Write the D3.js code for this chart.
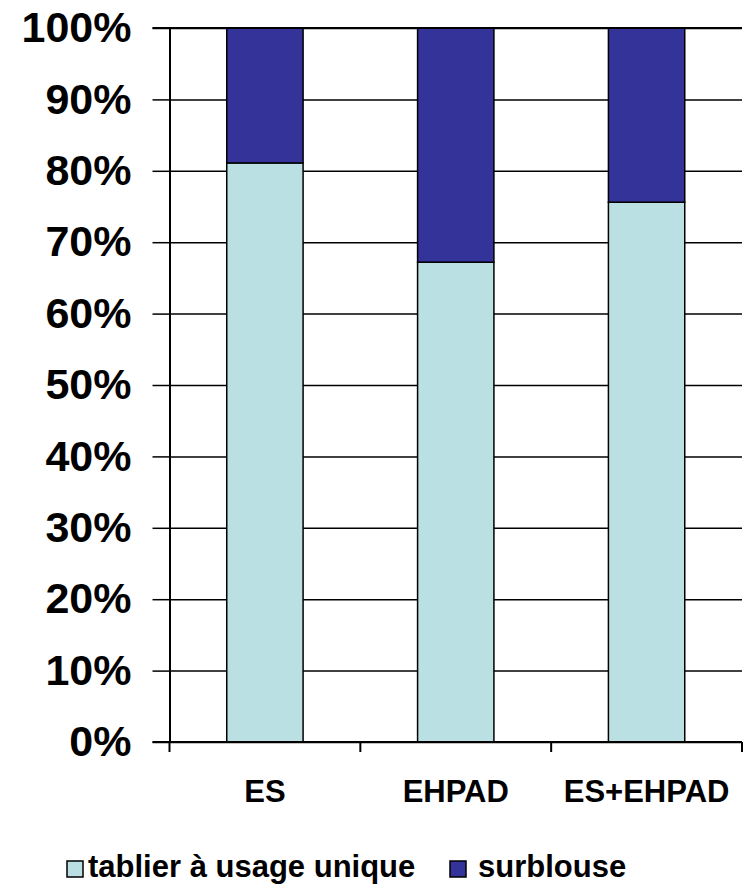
<!DOCTYPE html>
<html>
<head>
<meta charset="utf-8">
<script src="https://cdn.jsdelivr.net/npm/d3@7"></script>
<style>
  body { margin: 0; background: #fff; }
  text { font-family: "Liberation Sans", Arial, sans-serif; font-weight: bold; fill: #000; }
</style>
</head>
<body>
<script>
// categories and series (share of each type, per category)
var categories = ["ES", "EHPAD", "ES+EHPAD"];
var seriesNames = ["tablier à usage unique", "surblouse"];
var tablier = [0.811, 0.672, 0.756];
var surblouse = [0.189, 0.328, 0.244];
var yTicks = [0, 0.1, 0.2, 0.3, 0.4, 0.5, 0.6, 0.7, 0.8, 0.9, 1];
var colors = ["#BBE0E3", "#333399"];

var W = 743, H = 889;
var plotLeft = 169.5, plotRight = 742, plotTop = 28, plotBottom = 742;

var svg = d3.select("body").append("svg")
    .attr("width", W)
    .attr("height", H);

var x = d3.scaleBand()
    .domain(categories)
    .range([plotLeft, plotRight])
    .paddingInner(0.6)
    .paddingOuter(0.3);

var y = d3.scaleLinear()
    .domain([0, 1])
    .range([plotBottom, plotTop]);

// gridlines
svg.append("g")
    .attr("transform", "translate(" + plotLeft + ",0)")
    .call(d3.axisLeft(y).tickValues(yTicks).tickSize(-(plotRight - plotLeft)).tickFormat(""))
    .call(function(g) { g.select(".domain").remove(); })
    .selectAll("line")
    .attr("stroke", "#000")
    .attr("stroke-width", 1.5);

// y axis with labels
svg.append("g")
    .attr("transform", "translate(" + plotLeft + ",0)")
    .call(d3.axisLeft(y).tickValues(yTicks).tickSize(17).tickSizeOuter(0).tickPadding(21)
        .tickFormat(d3.format(".0%")))
    .call(function(g) {
        g.select(".domain").attr("stroke", "#000").attr("stroke-width", 2);
        g.selectAll("line").attr("stroke", "#000").attr("stroke-width", 1.5);
        g.selectAll("text").style("font-size", "43px").attr("font-family", null);
    });

// stacked bars
var stackData = categories.map(function(c, i) {
    return { cat: c, tablier: tablier[i], surblouse: surblouse[i] };
});
var stacked = d3.stack().keys(["tablier", "surblouse"])(stackData);

svg.append("g")
    .selectAll("g")
    .data(stacked)
    .enter()
    .append("g")
    .attr("fill", function(d, i) { return colors[i]; })
    .selectAll("rect")
    .data(function(d) { return d; })
    .enter()
    .append("rect")
    .attr("x", function(d) { return x(d.data.cat); })
    .attr("width", x.bandwidth())
    .attr("y", function(d) { return y(d[1]); })
    .attr("height", function(d) { return y(d[0]) - y(d[1]); })
    .attr("stroke", "#000")
    .attr("stroke-width", 1.5);

// top line
svg.append("line")
    .attr("x1", plotLeft - 17).attr("x2", plotRight)
    .attr("y1", y(1)).attr("y2", y(1))
    .attr("stroke", "#000").attr("stroke-width", 2);

// x axis line
svg.append("line")
    .attr("x1", plotLeft - 17).attr("x2", plotRight)
    .attr("y1", y(0)).attr("y2", y(0))
    .attr("stroke", "#000").attr("stroke-width", 2);

// x ticks at category boundaries
svg.append("g")
    .selectAll("line")
    .data(d3.range(categories.length + 1))
    .enter()
    .append("line")
    .attr("x1", function(i) { return plotLeft + i * x.step(); })
    .attr("x2", function(i) { return plotLeft + i * x.step(); })
    .attr("y1", y(0))
    .attr("y2", y(0) + 10)
    .attr("stroke", "#000")
    .attr("stroke-width", 2);

// x labels
svg.append("g")
    .selectAll("text")
    .data(categories)
    .enter()
    .append("text")
    .attr("x", function(d) { return x(d) + x.bandwidth() / 2; })
    .attr("y", 802)
    .attr("text-anchor", "middle")
    .style("font-size", "31px")
    .text(function(d) { return d; });

// legend
var legendX = [67, 450];
var legend = svg.append("g")
    .selectAll("g")
    .data(seriesNames)
    .enter()
    .append("g")
    .attr("transform", function(d, i) { return "translate(" + legendX[i] + ",861)"; });

legend.append("rect")
    .attr("width", 16)
    .attr("height", 16)
    .attr("fill", function(d, i) { return colors[i]; })
    .attr("stroke", "#000")
    .attr("stroke-width", 1.5);

legend.append("text")
    .attr("x", function(d, i) { return i === 0 ? 21 : 28; })
    .attr("y", 16)
    .style("font-size", "31px")
    .text(function(d) { return d; });
</script>
</body>
</html>
